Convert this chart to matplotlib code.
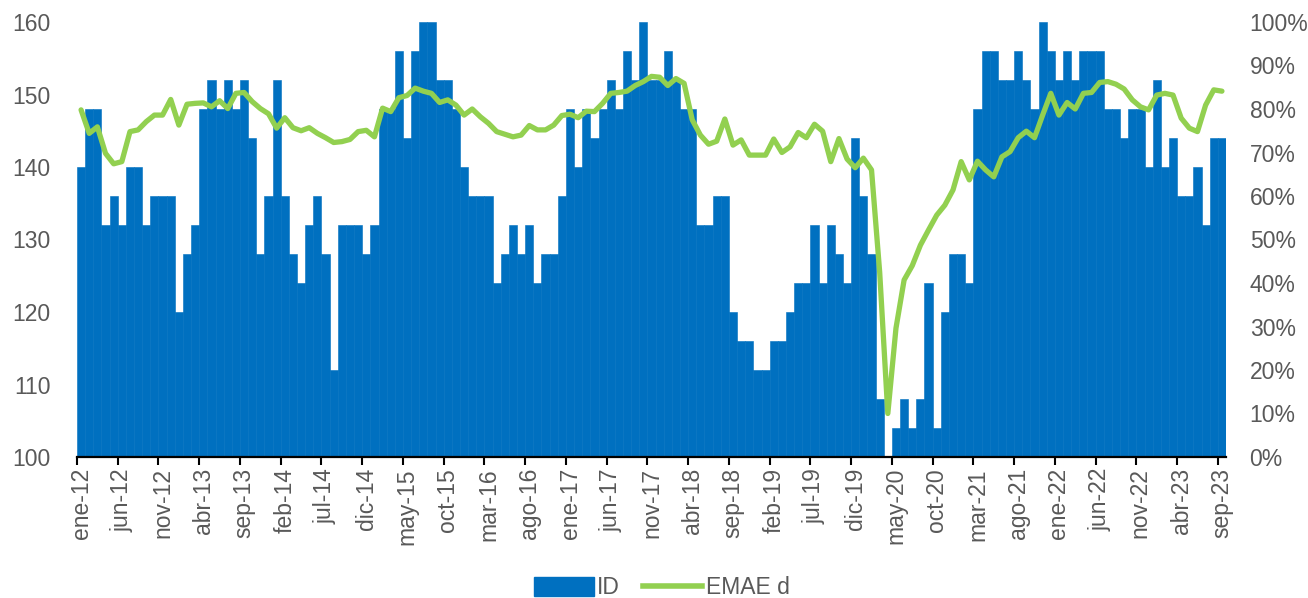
import matplotlib
matplotlib.use("Agg")
import matplotlib.pyplot as plt
import numpy as np
from matplotlib.patches import Patch
from matplotlib.lines import Line2D

plt.rcParams['font.family'] = ['Liberation Sans', 'DejaVu Sans']

# monthly, ene-12 .. sep-23
id_vals = [140, 148, 148, 132, 136, 132, 140, 140, 132, 136, 136, 136,
           120, 128, 132, 148, 152, 148, 152, 148, 152, 144, 128, 136,
           152, 136, 128, 124, 132, 136, 128, 112, 132, 132, 132, 128,
           132, 148, 148, 156, 144, 156, 160, 160, 152, 152, 148, 140,
           136, 136, 136, 124, 128, 132, 128, 132, 124, 128, 128, 136,
           148, 140, 148, 144, 148, 152, 148, 156, 152, 160, 152, 152,
           156, 152, 148, 148, 132, 132, 136, 136, 120, 116, 116, 112,
           112, 116, 116, 120, 124, 124, 132, 124, 132, 128, 124, 144,
           136, 128, 108, 100, 104, 108, 104, 108, 124, 104, 120, 128,
           128, 124, 148, 156, 156, 152, 152, 156, 152, 148, 160, 156,
           152, 156, 152, 156, 156, 156, 148, 148, 144, 148, 148, 140,
           152, 140, 144, 136, 136, 140, 132, 144, 144]

emae_d = [79.8, 74.4, 75.9, 69.8, 67.4, 67.9, 74.8, 75.2, 77.1, 78.6, 78.6, 82.2,
          76.3, 81.1, 81.3, 81.4, 80.5, 81.9, 80.1, 83.6, 83.8, 81.7, 80.1, 78.9,
          75.6, 78.0, 75.7, 75.0, 75.7, 74.4, 73.4, 72.3, 72.5, 73.0, 74.8, 75.1,
          73.6, 80.2, 79.4, 82.6, 83.1, 84.8, 84.1, 83.6, 81.5, 82.1, 80.9, 78.6,
          80.0, 78.2, 76.7, 74.8, 74.2, 73.6, 74.0, 76.2, 75.2, 75.2, 76.3, 78.5,
          78.8, 78.0, 79.5, 79.4, 81.3, 83.6, 83.8, 84.1, 85.4, 86.3, 87.5, 87.3,
          85.4, 87.0, 85.9, 77.5, 74.0, 71.9, 72.6, 77.7, 71.7, 72.9, 69.4, 69.4,
          69.4, 73.1, 70.0, 71.3, 74.6, 73.4, 76.5, 74.9, 67.9, 73.2, 68.5, 66.5,
          68.7, 66.0, 42.5, 10.0, 29.6, 40.7, 44.0, 48.7, 52.2, 55.6, 57.9, 61.4,
          67.9, 63.7, 68.0, 66.0, 64.4, 69.0, 70.2, 73.4, 74.9, 73.4, 78.6, 83.6,
          78.6, 81.5, 80.0, 83.6, 83.8, 86.1, 86.3, 85.7, 84.6, 82.1, 80.5, 79.8,
          83.2, 83.6, 83.2, 77.9, 75.6, 74.8, 80.9, 84.4, 84.1]

tick_labels = ["ene-12", "jun-12", "nov-12", "abr-13", "sep-13", "feb-14", "jul-14",
               "dic-14", "may-15", "oct-15", "mar-16", "ago-16", "ene-17", "jun-17",
               "nov-17", "abr-18", "sep-18", "feb-19", "jul-19", "dic-19", "may-20",
               "oct-20", "mar-21", "ago-21", "ene-22", "jun-22", "nov-22", "abr-23",
               "sep-23"]

blue = '#0070C0'
green = '#92D050'
grey = '#595959'
fs = 16.5

x = np.arange(len(id_vals))

fig = plt.figure(figsize=(13.08, 5.98), dpi=100)
ax = fig.add_axes([77/1308, 1-457/598, (1226-77)/1308, (457-22)/598])
ax.bar(x, id_vals, width=1.0, color=blue, edgecolor=blue, linewidth=0.4)
ax.set_xlim(-0.5, len(id_vals)-0.5)
ax.set_ylim(100, 160)
ax.set_yticks(range(100, 161, 10))
ax.tick_params(axis='y', length=0, pad=19, labelsize=fs, labelcolor=grey)

ax.set_xticks(x[::5])
ax.set_xticklabels(tick_labels, rotation=90, fontsize=fs, color=grey)
ax.set_xticks(np.arange(-0.5, len(id_vals), 5), minor=True)
ax.tick_params(axis='x', which='major', length=0, pad=8)
ax.tick_params(axis='x', which='minor', length=6, width=1.5, color='black')

for s in ['top', 'left', 'right']:
    ax.spines[s].set_visible(False)
ax.spines['bottom'].set_linewidth(1.6)
ax.spines['bottom'].set_zorder(5)

ax2 = ax.twinx()
ax2.plot(x, emae_d, color=green, lw=3.8, solid_joinstyle='round', solid_capstyle='round')
ax2.set_ylim(0, 100)
ax2.set_yticks(range(0, 101, 10))
ax2.set_yticklabels([f"{v}%" for v in range(0, 101, 10)])
ax2.tick_params(axis='y', length=0, pad=17, labelsize=fs, labelcolor=grey)
for s in ['top', 'left', 'right', 'bottom']:
    ax2.spines[s].set_visible(False)

handles = [Patch(facecolor=blue, edgecolor=blue), Line2D([0], [0], color=green, lw=4)]
leg = fig.legend(handles, ['ID', 'EMAE d'], loc='center', bbox_to_anchor=(0.506, 1-588/598),
                 ncol=2, frameon=False, fontsize=fs, handlelength=2.6, handleheight=0.9,
                 handletextpad=0.15, columnspacing=1.0)
for t in leg.get_texts():
    t.set_color(grey)

fig.savefig('out.png', dpi=100)
